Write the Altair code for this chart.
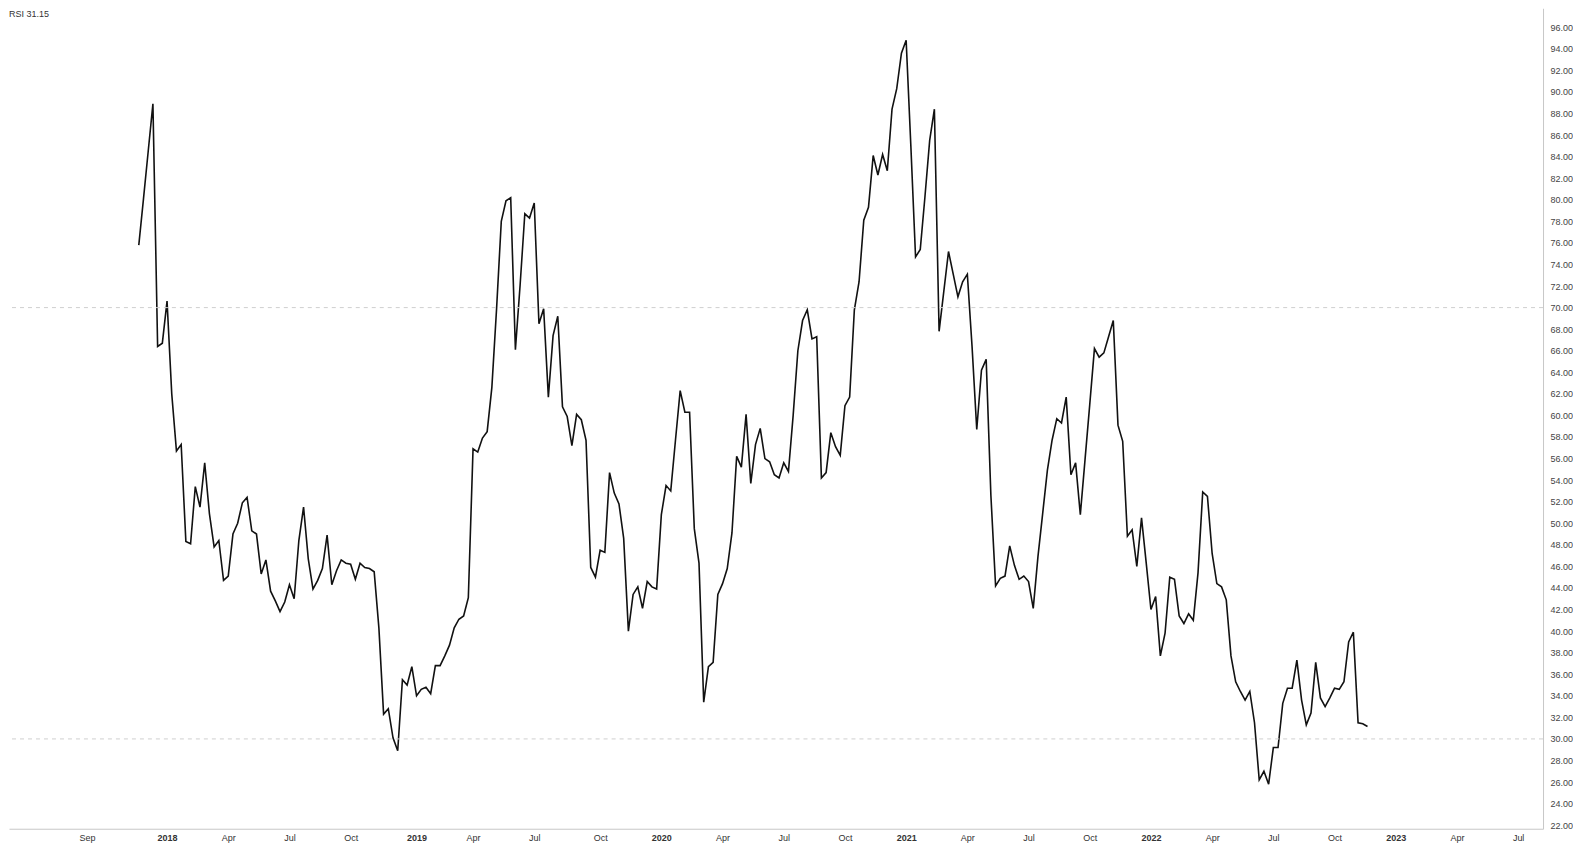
import altair as alt
import pandas as pd

# Weekly RSI values (first bar: week of 2017-11-20)
rsi = [
    75.8, 80.1, 84.5, 88.9, 66.4, 66.7, 70.6, 62.0, 56.7, 57.3,
    48.3, 48.1, 53.4, 51.5, 55.6, 50.9, 47.8, 48.4, 44.7, 45.1,
    49.0, 50.0, 51.9, 52.4, 49.3, 49.0, 45.3, 46.6, 43.7, 42.8,
    41.8, 42.7, 44.3, 43.0, 48.4, 51.5, 46.7, 43.9, 44.7, 45.8,
    48.9, 44.3, 45.6, 46.6, 46.3, 46.2, 44.8, 46.3, 45.9, 45.8,
    45.5, 40.3, 32.3, 32.8, 30.1, 28.9, 35.5, 35.0, 36.7, 34.0,
    34.6, 34.8, 34.2, 36.8, 36.8, 37.7, 38.7, 40.3, 41.1, 41.4,
    43.1, 56.9, 56.6, 57.9, 58.5, 62.6, 69.9, 78.0, 79.9, 80.2,
    66.1, 72.1, 78.7, 78.3, 79.7, 68.5, 69.9, 61.7, 67.4, 69.2,
    60.8, 59.9, 57.2, 60.1, 59.6, 57.7, 45.9, 45.0, 47.5, 47.3,
    54.7, 52.8, 51.8, 48.6, 40.0, 43.4, 44.1, 42.1, 44.6, 44.1,
    43.9, 50.8, 53.5, 53.0, 57.7, 62.3, 60.3, 60.3, 49.5, 46.3,
    33.4, 36.7, 37.1, 43.4, 44.4, 45.8, 49.1, 56.2, 55.2, 60.1,
    53.7, 57.3, 58.8, 56.0, 55.7, 54.5, 54.2, 55.6, 54.8, 60.0,
    66.0, 68.8, 69.8, 67.1, 67.3, 54.2, 54.7, 58.4, 57.1, 56.3,
    60.9, 61.7, 69.8, 72.4, 78.1, 79.3, 84.1, 82.3, 84.2, 82.7,
    88.4, 90.3, 93.6, 94.8, 85.0, 74.7, 75.4, 80.3, 85.5, 88.4,
    67.8, 71.5, 75.2, 73.1, 71.0, 72.4, 73.1, 66.4, 58.7, 64.2,
    65.2, 52.6, 44.2, 44.9, 45.1, 47.9, 46.1, 44.8, 45.1, 44.6,
    42.1, 46.9, 50.9, 54.9, 57.7, 59.7, 59.3, 61.7, 54.5, 55.6,
    50.8, 55.9, 61.0, 66.2, 65.4, 65.8, 67.3, 68.8, 59.1, 57.6,
    48.8, 49.4, 46.0, 50.5, 46.3, 42.0, 43.2, 37.7, 39.8, 45.0,
    44.8, 41.4, 40.7, 41.6, 41.0, 45.4, 52.9, 52.5, 47.2, 44.4,
    44.1, 42.9, 37.7, 35.3, 34.4, 33.6, 34.4, 31.5, 26.2, 27.0,
    25.8, 29.2, 29.2, 33.3, 34.7, 34.7, 37.3, 33.6, 31.3, 32.4,
    37.1, 33.8, 33.0, 33.8, 34.7, 34.6, 35.3, 39.0, 39.9, 31.5,
    31.4, 31.15,
]
start_date = "2017-11-20"

# axis labels: first weekly bar of each labelled month
tick_dates = [
    "2017-09-04", "2018-01-01", "2018-04-02", "2018-07-02", "2018-10-01",
    "2019-01-07", "2019-04-01", "2019-07-01", "2019-10-07",
    "2020-01-06", "2020-04-06", "2020-07-06", "2020-10-05",
    "2021-01-04", "2021-04-05", "2021-07-05", "2021-10-04",
    "2022-01-03", "2022-04-04", "2022-07-04", "2022-10-03",
    "2023-01-02", "2023-04-03", "2023-07-03",
]
x_range = ["2017-05-11", "2023-08-09"]
y_range = [21.67, 97.76]
y_ticks = list(range(22, 99, 2))
levels = [70, 30]
header = "RSI"


def dt(s):
    d = pd.Timestamp(s)
    return alt.DateTime(year=d.year, month=d.month, date=d.day)


dates = pd.date_range(start_date, periods=len(rsi), freq="7D")
df = pd.DataFrame({"date": dates.strftime("%Y-%m-%dT00:00:00"), "rsi": rsi})

W, H = 1535, 821
FONT = "Liberation Sans"

xscale = alt.Scale(domain=[dt(x_range[0]), dt(x_range[1])])
yscale = alt.Scale(domain=y_range, nice=False, zero=False)

y_axis = alt.Axis(
    orient="right",
    values=y_ticks,
    format=".2f",
    ticks=False,
    grid=False,
    domainColor="#c8c8c8",
    labelColor="#444444",
    labelFontSize=9,
    labelFont=FONT,
    labelPadding=7,
    labelOverlap=False,
    labelFlush=False,
)

x_axis = alt.Axis(
    values=[dt(s) for s in tick_dates],
    labelExpr="month(datum.value) == 0 ? timeFormat(datum.value, '%Y') : timeFormat(datum.value, '%b')",
    labelFontWeight={"condition": {"test": "month(datum.value) == 0", "value": "bold"}, "value": "normal"},
    ticks=False,
    grid=False,
    domainColor="#c8c8c8",
    labelColor="#333333",
    labelFontSize=9,
    labelFont=FONT,
    labelPadding=5,
    labelOverlap=False,
    labelFlush=False,
)

line = alt.Chart(df).mark_line(color="#111111", strokeWidth=1.6, clip=True).encode(
    x=alt.X("date:T", scale=xscale, title=None, axis=x_axis),
    y=alt.Y("rsi:Q", scale=yscale, title=None, axis=y_axis),
)

rules = alt.Chart(pd.DataFrame({"level": levels})).mark_rule(
    color="#cfcfcf", strokeDash=[4, 4], strokeWidth=1
).encode(y=alt.Y("level:Q", scale=yscale, title=None, axis=y_axis))

label = alt.Chart(pd.DataFrame({"t": [f"{header}  {rsi[-1]:.2f}"]})).mark_text(
    align="left", baseline="top", fontSize=9, font=FONT, color="#333333"
).encode(text="t:N", x=alt.value(0), y=alt.value(2))

chart = alt.layer(line, rules, label).properties(
    width=W, height=H, padding=0, background="white"
).configure_view(stroke=None)

chart.save("out.html", embed_options={"renderer": "svg", "actions": False})
